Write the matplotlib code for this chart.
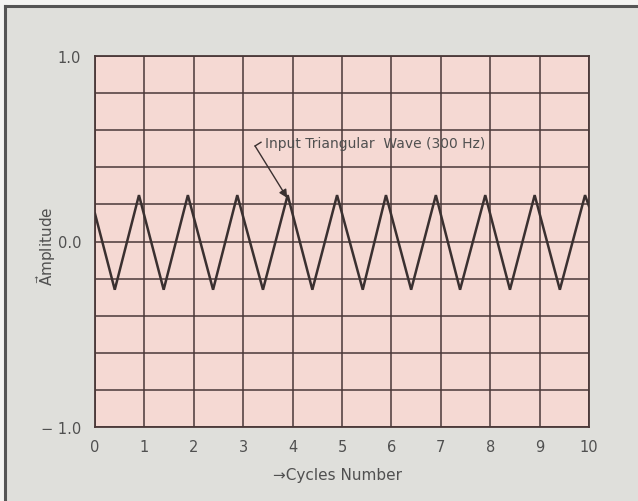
"""Triangular input wave plotted over ten cycles on a pink grid."""

import matplotlib.pyplot as plt
from matplotlib.lines import Line2D

# Vertices of the triangular wave (cycle position, amplitude)
wave_cycles = [0.00, 0.40, 0.89, 1.39, 1.88, 2.39, 2.88, 3.40, 3.90, 4.40, 4.90,
               5.42, 5.89, 6.40, 6.90, 7.39, 7.90, 8.40, 8.90, 9.41, 9.92, 10.00]
wave_amplitude = [0.15, -0.26, 0.25, -0.26, 0.25, -0.26, 0.25, -0.26, 0.25, -0.26, 0.25,
                  -0.26, 0.25, -0.26, 0.25, -0.26, 0.25, -0.26, 0.25, -0.26, 0.25, 0.19]

x_ticks = list(range(11))
y_ticks = [-1.0, 0.0, 1.0]
y_tick_labels = ["\u2212 1.0", "0.0", "1.0"]
y_grid = [-0.8, -0.6, -0.4, -0.2, 0.2, 0.4, 0.6, 0.8]

label_text = "Input Triangular  Wave (300 Hz)"
label_at = (3.44, 0.53)
hook_start = (3.24, 0.515)
arrow_tip = (3.89, 0.235)

BG = "#dfdfdb"
PINK = "#f5d9d3"
GRID = "#4a3838"
INK = "#3a3030"
TEXT = "#505050"

fig = plt.figure(figsize=(6.38, 5.02), dpi=100, facecolor=BG)

# framing lines along the top and left edge of the panel
fig.add_artist(plt.Rectangle((0, 1 - 5 / 502), 1, 5 / 502, transform=fig.transFigure,
                             color="#f4f4f2", zorder=0))
fig.add_artist(plt.Rectangle((0, 0), 4 / 638, 1, transform=fig.transFigure,
                             color="#f4f4f2", zorder=0))
fig.add_artist(Line2D([5 / 638, 1], [1 - 7 / 502, 1 - 7 / 502], transform=fig.transFigure,
                      color="#555555", lw=2.2))
fig.add_artist(Line2D([5 / 638, 5 / 638], [0, 1 - 7 / 502], transform=fig.transFigure,
                      color="#555555", lw=2.2))

ax = fig.add_axes([95 / 638, 74 / 502, 494 / 638, 371 / 502])
ax.set_facecolor(PINK)

ax.plot(wave_cycles, wave_amplitude, color=INK, lw=1.8, solid_joinstyle="miter", zorder=3)

ax.set_xlim(0, 10)
ax.set_ylim(-1.0, 1.0)
ax.set_xticks(x_ticks)
ax.set_xticklabels([str(t) for t in x_ticks])
ax.set_yticks(y_ticks)
ax.set_yticklabels(y_tick_labels)
ax.set_yticks(y_grid, minor=True)
ax.tick_params(which="both", length=0, labelsize=10.5, labelcolor=TEXT)
ax.tick_params(axis="x", pad=9)
ax.tick_params(axis="y", pad=10)

ax.grid(True, which="both", color=GRID, lw=1.1)
ax.set_axisbelow(True)
for s in ax.spines.values():
    s.set_color(GRID)
    s.set_linewidth(1.3)

ax.set_xlabel("\u2192Cycles Number", fontsize=11, color=TEXT)
ax.xaxis.set_label_coords(0.49, -0.107)
ax.set_ylabel(r"$\vec{\mathsf{A}}$mplitude", fontsize=11, color=TEXT)
ax.yaxis.set_label_coords(-0.074, 0.49)

# callout: label text with a hooked arrow down to one of the peaks
ax.text(*label_at, label_text, fontsize=10, color=TEXT, ha="left", va="center")
ax.plot([hook_start[0], hook_start[0] + 0.12], [hook_start[1], hook_start[1] + 0.02],
        color=INK, lw=1.0)
ax.annotate("", xy=arrow_tip, xytext=hook_start,
            arrowprops=dict(arrowstyle="-|>", color=INK, lw=1.0, shrinkA=0, shrinkB=0,
                            mutation_scale=12))

fig.savefig("out.png", dpi=100, facecolor=BG)
